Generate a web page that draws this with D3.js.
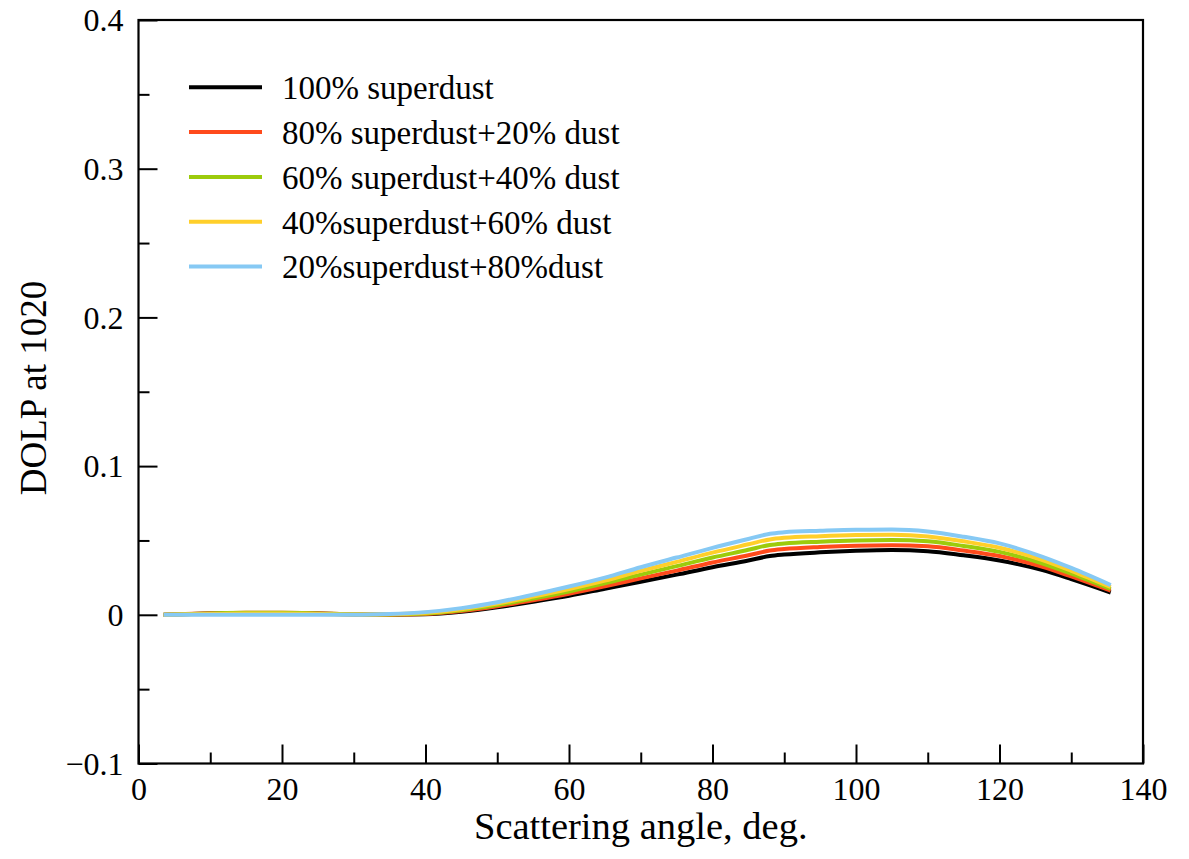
<!DOCTYPE html>
<html>
<head>
<meta charset="utf-8">
<script src="https://cdn.jsdelivr.net/npm/d3@7"></script>
<style>
    html, body { margin: 0; padding: 0; background: #fff; }
    svg { display: block; }
    text { font-family: "Liberation Serif", "Times New Roman", serif; fill: #000; }
</style>
</head>
<body>
<div id="chart"></div>
<script>
// scattering angle (deg.)
const angles = [3.5, 10, 15, 20, 25, 30, 35, 40, 45, 50, 55, 60, 65, 70, 75, 80, 85, 88, 90, 95, 100, 105, 110, 115, 120, 126, 130, 135.5];

// DOLP at 1020 for each mixture
const dolpSuper100 = [0.0000, 0.0008, 0.0012, 0.0012, 0.0008, 0.0002, 0.0000, 0.0003, 0.0020, 0.0050, 0.0088, 0.0128, 0.0175, 0.0222, 0.0270, 0.0320, 0.0365, 0.0395, 0.0405, 0.0420, 0.0430, 0.0435, 0.0428, 0.0400, 0.0365, 0.0300, 0.0240, 0.0150];
const dolpSuper80 = [0.0000, 0.0010, 0.0014, 0.0014, 0.0010, 0.0003, 0.0001, 0.0006, 0.0025, 0.0058, 0.0098, 0.0142, 0.0192, 0.0245, 0.0297, 0.0352, 0.0400, 0.0432, 0.0442, 0.0456, 0.0465, 0.0468, 0.0461, 0.0432, 0.0395, 0.0323, 0.0258, 0.0162];
const dolpSuper60 = [0.0000, 0.0009, 0.0013, 0.0013, 0.0009, 0.0003, 0.0002, 0.0009, 0.0031, 0.0066, 0.0109, 0.0157, 0.0211, 0.0270, 0.0327, 0.0385, 0.0437, 0.0470, 0.0480, 0.0492, 0.0500, 0.0503, 0.0494, 0.0463, 0.0423, 0.0345, 0.0277, 0.0174];
const dolpSuper40 = [0.0000, 0.0005, 0.0008, 0.0008, 0.0005, 0.0002, 0.0003, 0.0013, 0.0038, 0.0075, 0.0122, 0.0173, 0.0230, 0.0295, 0.0356, 0.0418, 0.0474, 0.0507, 0.0518, 0.0529, 0.0536, 0.0538, 0.0527, 0.0494, 0.0451, 0.0368, 0.0296, 0.0187];
const dolpSuper20 = [0.0000, 0.0000, 0.0000, 0.0000, 0.0000, 0.0000, 0.0005, 0.0018, 0.0045, 0.0085, 0.0135, 0.0190, 0.0250, 0.0320, 0.0385, 0.0450, 0.0510, 0.0545, 0.0555, 0.0565, 0.0572, 0.0573, 0.0560, 0.0525, 0.0480, 0.0390, 0.0315, 0.0200];

const seriesNames = [
    "100% superdust",
    "80% superdust+20% dust",
    "60% superdust+40% dust",
    "40%superdust+60% dust",
    "20%superdust+80%dust"
];
const seriesValues = [dolpSuper100, dolpSuper80, dolpSuper60, dolpSuper40, dolpSuper20];
const seriesColors = ["#000000", "#ff4a1c", "#9ccb0c", "#ffcf2a", "#86c9f4"];

const xTicks = [0, 20, 40, 60, 80, 100, 120, 140];
const xMinorTicks = [10, 30, 50, 70, 90, 110, 130];
const yTicks = [-0.1, 0, 0.1, 0.2, 0.3, 0.4];
const yMinorTicks = [-0.05, 0.05, 0.15, 0.25, 0.35];

const width = 1189, height = 859;
const margin = { top: 20, right: 46, bottom: 95.5, left: 138.5 };
const serif = '"Liberation Serif", "Times New Roman", serif';

const svg = d3.select('#chart')
    .append('svg')
    .attr('width', width)
    .attr('height', height);

const x = d3.scaleLinear().domain([0, 140]).range([margin.left, width - margin.right]);
const y = d3.scaleLinear().domain([-0.1, 0.4]).range([height - margin.bottom, margin.top]);

// minor ticks first, major ticks with labels on top
const majorLen = 19, minorLen = 11;

svg.append('g')
    .attr('transform', `translate(0,${y(-0.1)})`)
    .call(d3.axisBottom(x).tickValues(xMinorTicks).tickSize(-minorLen).tickFormat(''))
    .call(g => g.select('.domain').remove());

svg.append('g')
    .attr('transform', `translate(0,${y(-0.1)})`)
    .call(d3.axisBottom(x).tickValues(xTicks).tickSize(-majorLen).tickPadding(34)
        .tickFormat(d3.format('d')))
    .call(g => g.select('.domain').remove())
    .call(g => g.attr('font-family', serif).attr('font-size', 32))
    .call(g => g.selectAll('text').attr('dy', '0.08em'));

svg.append('g')
    .attr('transform', `translate(${x(0)},0)`)
    .call(d3.axisLeft(y).tickValues(yMinorTicks).tickSize(-minorLen).tickFormat(''))
    .call(g => g.select('.domain').remove());

svg.append('g')
    .attr('transform', `translate(${x(0)},0)`)
    .call(d3.axisLeft(y).tickValues(yTicks).tickSize(-majorLen).tickPadding(15)
        .tickFormat(d => d === 0 ? '0' : d3.format('.1f')(d)))
    .call(g => g.select('.domain').remove())
    .call(g => g.attr('font-family', serif).attr('font-size', 32))
    .call(g => g.selectAll('text').attr('dy', '0.34em'));

svg.selectAll('.tick line')
    .attr('stroke', '#000')
    .attr('stroke-width', 2);

// frame
svg.append('rect')
    .attr('x', x(0))
    .attr('y', y(0.4))
    .attr('width', x(140) - x(0))
    .attr('height', y(-0.1) - y(0.4))
    .attr('fill', 'none')
    .attr('stroke', '#000')
    .attr('stroke-width', 2.2);

// curves
const line = d3.line()
    .x(d => x(d[0]))
    .y(d => y(d[1]))
    .curve(d3.curveMonotoneX);

svg.append('g')
    .selectAll('path')
    .data(seriesValues)
    .join('path')
    .attr('d', vals => line(angles.map((a, i) => [a, vals[i]])))
    .attr('fill', 'none')
    .attr('stroke', (d, i) => seriesColors[i])
    .attr('stroke-width', 4)
    .attr('stroke-linejoin', 'round');

// legend
const legend = svg.append('g')
    .selectAll('g')
    .data(seriesNames)
    .join('g')
    .attr('transform', (d, i) => `translate(189,${87.3 + i * 44.8})`);

legend.append('line')
    .attr('x1', 0)
    .attr('x2', 73)
    .attr('stroke', (d, i) => seriesColors[i])
    .attr('stroke-width', 4);

legend.append('text')
    .attr('x', 93)
    .attr('dy', '0.36em')
    .style('font-size', '33px')
    .text(d => d);

// axis titles
svg.append('text')
    .attr('x', (x(0) + x(140)) / 2)
    .attr('y', 839)
    .attr('text-anchor', 'middle')
    .style('font-size', '38.5px')
    .text('Scattering angle, deg.');

svg.append('text')
    .attr('transform', `translate(46,${388}) rotate(-90)`)
    .attr('text-anchor', 'middle')
    .style('font-size', '37px')
    .text('DOLP at 1020');
</script>
</body>
</html>
